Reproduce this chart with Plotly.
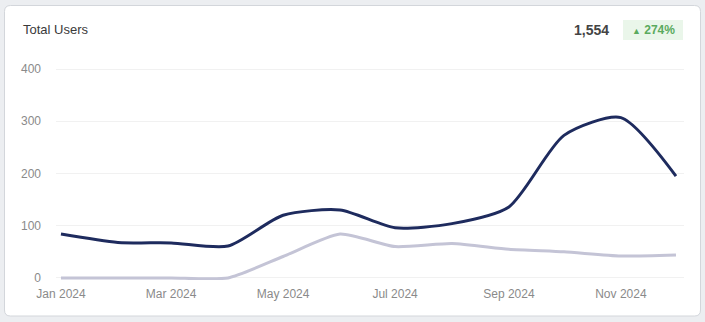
import plotly.graph_objects as go

months = ["2024-01-01", "2024-02-01", "2024-03-01", "2024-04-01", "2024-05-01", "2024-06-01",
          "2024-07-01", "2024-08-01", "2024-09-01", "2024-10-01", "2024-11-01", "2024-12-01"]
current_users = [84, 68, 67, 61, 120, 130, 96, 104, 136, 273, 307, 195]
previous_users = [0, 0, 0, 0, 41, 84, 60, 66, 55, 50, 42, 44]
y_ticks = [0, 100, 200, 300, 400]
title_text = "Total Users"
total_text = "1,554"
change_text = "274%"

W, H = 705, 322
L, R, T, B = 56, 21, 67, 42
PW, PH = W - L - R, H - T - B


def px(x):
    return (x - L) / PW


def py(y):
    return 1 - (y - T) / PH


fig = go.Figure()
fig.add_trace(go.Scatter(x=months, y=previous_users, mode="lines",
                         line=dict(color="#c4c4d6", width=3, shape="spline", smoothing=0.6),
                         hoverinfo="skip"))
fig.add_trace(go.Scatter(x=months, y=current_users, mode="lines",
                         line=dict(color="#1e2b5e", width=3, shape="spline", smoothing=0.7),
                         hoverinfo="skip"))

# card with rounded corners
x0, x1, y0, y1, r = 4.5, 700.5, 5.5, 316, 6
path = (f"M {px(x0+r)},{py(y0)} L {px(x1-r)},{py(y0)} Q {px(x1)},{py(y0)} {px(x1)},{py(y0+r)} "
        f"L {px(x1)},{py(y1-r)} Q {px(x1)},{py(y1)} {px(x1-r)},{py(y1)} "
        f"L {px(x0+r)},{py(y1)} Q {px(x0)},{py(y1)} {px(x0)},{py(y1-r)} "
        f"L {px(x0)},{py(y0+r)} Q {px(x0)},{py(y0)} {px(x0+r)},{py(y0)} Z")
shapes = [
    dict(type="path", path=path, xref="paper", yref="paper", layer="below",
         fillcolor="#ffffff", line=dict(color="#d3d6db", width=1)),
    dict(type="rect", xref="paper", yref="paper", layer="below",
         x0=px(623), x1=px(683), y0=py(20), y1=py(40),
         fillcolor="#eaf6ea", line=dict(width=0)),
]

annotations = [
    dict(text=title_text, x=px(21), y=py(30), xref="paper", yref="paper",
         xanchor="left", yanchor="middle", showarrow=False,
         font=dict(size=13, color="#3a3a3a", family="Liberation Sans, Arial")),
    dict(text=f"<b>{total_text}</b>", x=px(611), y=py(30), xref="paper", yref="paper",
         xanchor="right", yanchor="middle", showarrow=False,
         font=dict(size=14, color="#444444", family="Liberation Sans, Arial")),
    dict(text=f"<span style='font-size:9px'>▲</span> <b>{change_text}</b>", x=px(653), y=py(30),
         xref="paper", yref="paper", xanchor="center", yanchor="middle", showarrow=False,
         font=dict(size=12, color="#5aaa5e", family="Liberation Sans, Arial")),
]

fig.update_layout(
    width=W, height=H,
    margin=dict(l=L, r=R, t=T, b=B),
    paper_bgcolor="#eceef1",
    plot_bgcolor="rgba(0,0,0,0)",
    showlegend=False,
    shapes=shapes,
    annotations=annotations,
    font=dict(family="Liberation Sans, Arial", size=12, color="#8a8a8a"),
    xaxis=dict(type="date", range=["2023-12-29 07:00", "2024-12-05 09:00"],
               dtick="M2", tick0="2024-01-01", tickformat="%b %Y",
               showgrid=False, zeroline=False, showline=False, ticks="",
               ticklabelstandoff=5, fixedrange=True),
    yaxis=dict(range=[-4, 404], tickvals=y_ticks, showgrid=True, gridcolor="#f1f1f1",
               gridwidth=1, zeroline=False, showline=False, ticks="",
               ticklabelstandoff=14, fixedrange=True),
)

fig.write_html("out.html", config={"displayModeBar": False})
